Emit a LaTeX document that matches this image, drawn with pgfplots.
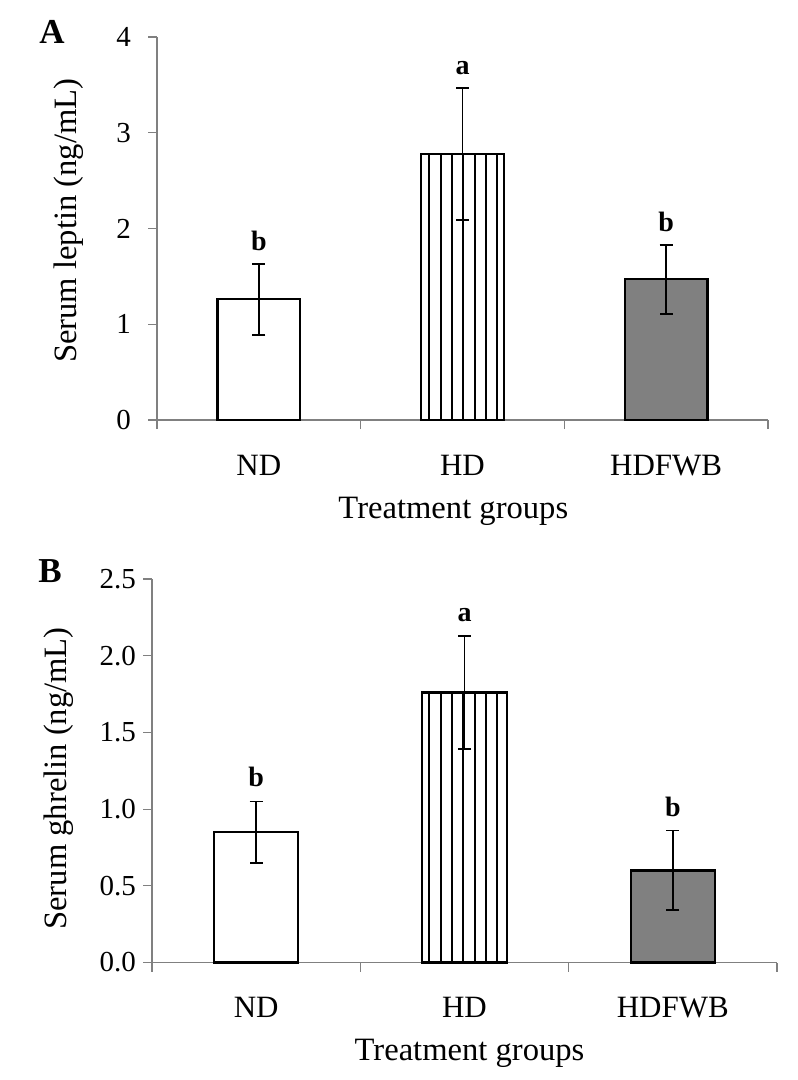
\documentclass[border=0pt]{standalone}
\usepackage{pgfplots}
\pgfplotsset{compat=1.18}
\usetikzlibrary{patterns.meta}
\usepackage{fontspec}
\setmainfont{Liberation Serif}
\definecolor{axisgray}{RGB}{128,128,128}
\definecolor{barfill}{RGB}{128,128,128}

\pgfplotsset{
  panel/.style={
    scale only axis,
    axis x line*=bottom, axis y line*=left,
    axis line style={draw=axisgray, line width=0.6pt},
    tick style={draw=axisgray, line width=0.6pt},
    tick align=outside, major tick length=4.5pt,
    xmin=-0.5, xmax=2.5, ymin=0,
    xtick={-0.5,0.5,1.5,2.5}, xticklabels={,,,},
    extra x ticks={0,1,2}, extra x tick labels={ND,HD,HDFWB},
    extra x tick style={major tick length=0pt,
      xticklabel style={anchor=base, yshift=-27.5pt, font=\fontsize{15.5}{18}\selectfont}},
    yticklabel style={font=\fontsize{14.5}{17}\selectfont},
    /pgf/number format/assume math mode=true,
    label style={font=\fontsize{16.3}{19}\selectfont},
    clip=false,
  },
  bars/.style={ybar, bar width=0.405, bar shift=0pt, draw=black, line width=1.1pt},
  errs/.style={error bars/.cd, y dir=both, y explicit,
    error bar style={line width=0.9pt, black},
    error mark options={rotate=90, mark size=3.25pt, line width=0.9pt, black}},
}
\tikzset{sig/.style={font=\fontsize{14}{16}\selectfont\bfseries, anchor=base}}

\begin{document}
\begin{tikzpicture}
\useasboundingbox (0,0) rectangle (398.5pt,-540pt);

% ---------------- Panel A ----------------
\begin{axis}[panel, at={(78.5pt,-210pt)}, anchor=south west,
  width=305.5pt, height=191.5pt,
  ymax=4, ytick={0,1,2,3,4}, yticklabel style={xshift=-5pt},
  ylabel={Serum leptin (ng/mL)},
  ylabel style={at={(axis description cs:-0.144,0.52)}, anchor=center},
  xlabel={Treatment groups},
  xlabel style={at={(axis description cs:0.485,0)}, anchor=base, yshift=-49pt},
]
\addplot[bars, fill=white, errs] coordinates {(0,1.26) +- (0,0.37)};
\addplot[bars, pattern={Lines[angle=90, distance=5.65pt, line width=1pt]}, pattern color=black, errs]
  coordinates {(1,2.78) +- (0,0.69)};
\addplot[bars, fill=barfill, errs] coordinates {(2,1.47) +- (0,0.36)};
\node[sig, yshift=6.75pt] at (axis cs:0,1.63) {b};
\node[sig, yshift=6.75pt] at (axis cs:1,3.47) {a};
\node[sig, yshift=6.75pt] at (axis cs:2,1.83) {b};
\end{axis}
\node[font=\fontsize{17.5}{19}\selectfont\bfseries] at (26pt,-16pt) {A};

% ---------------- Panel B ----------------
\begin{axis}[panel, at={(76pt,-481.25pt)}, anchor=south west,
  width=312.5pt, height=191.75pt,
  ymax=2.5, ytick={0,0.5,1,1.5,2,2.5},
  yticklabel style={/pgf/number format/fixed, /pgf/number format/fixed zerofill, /pgf/number format/precision=1},
  ylabel={Serum ghrelin (ng/mL)},
  ylabel style={at={(axis description cs:-0.1496,0.48)}, anchor=center},
  xlabel={Treatment groups},
  xlabel style={at={(axis description cs:0.508,0)}, anchor=base, yshift=-49pt},
]
\addplot[bars, fill=white, errs] coordinates {(0,0.85) +- (0,0.20)};
\addplot[bars, pattern={Lines[angle=90, distance=5.65pt, line width=1pt]}, pattern color=black, errs]
  coordinates {(1,1.76) +- (0,0.37)};
\addplot[bars, fill=barfill, errs] coordinates {(2,0.60) +- (0,0.26)};
\node[sig, yshift=7.25pt] at (axis cs:0,1.05) {b};
\node[sig, yshift=7.25pt] at (axis cs:1,2.13) {a};
\node[sig, yshift=7.25pt] at (axis cs:2,0.86) {b};
\end{axis}
\node[font=\fontsize{17.5}{19}\selectfont\bfseries] at (25pt,-285.5pt) {B};
\end{tikzpicture}
\end{document}
